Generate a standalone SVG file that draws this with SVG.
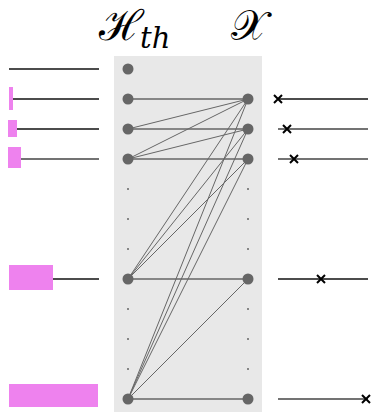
<svg xmlns="http://www.w3.org/2000/svg" width="373" height="412" viewBox="0 0 373 412">
<style>
.bar{fill:#ee82ee}
.ln{stroke:#111;stroke-width:1.3;fill:none}
.lg{stroke:#444;stroke-width:1.3;fill:none}
.e{stroke:#666;stroke-width:1;fill:none}
.h{stroke:#666;stroke-width:1.5;fill:none}
.n{fill:#666}
.d{fill:#666}
.x{stroke:#000;stroke-width:2;fill:none}
.lbl{font-family:"DejaVu Serif","Liberation Serif",serif;fill:#000}
</style>
<rect x="114" y="56" width="148" height="356" fill="#e8e8e8"/>
<g id="labels">
<text class="lbl" x="99" y="40" font-size="42">ℋ</text>
<text class="lbl" x="140" y="48" font-size="29" font-style="italic">th</text>
<text class="lbl" x="231" y="40" font-size="42">𝒳</text>
</g>
<g id="connectors">
<line class="h" x1="128" y1="99" x2="248" y2="99"/>
<line class="e" x1="128" y1="129" x2="248" y2="99"/>
<line class="h" x1="128" y1="129" x2="248" y2="129"/>
<line class="e" x1="128" y1="159" x2="248" y2="99"/>
<line class="e" x1="128" y1="159" x2="248" y2="129"/>
<line class="h" x1="128" y1="159" x2="248" y2="159"/>
<line class="e" x1="128" y1="279" x2="248" y2="99"/>
<line class="e" x1="128" y1="279" x2="248" y2="129"/>
<line class="e" x1="128" y1="279" x2="248" y2="159"/>
<line class="h" x1="128" y1="279" x2="248" y2="279"/>
<line class="e" x1="128" y1="399" x2="248" y2="99"/>
<line class="e" x1="128" y1="399" x2="248" y2="129"/>
<line class="e" x1="128" y1="399" x2="248" y2="159"/>
<line class="e" x1="128" y1="399" x2="248" y2="279"/>
<line class="h" x1="128" y1="399" x2="248" y2="399"/>
</g>
<g id="left-inputs">
<line class="ln" x1="9" y1="69" x2="99" y2="69"/>
<line class="ln" x1="9" y1="99" x2="99" y2="99"/>
<line class="ln" x1="9" y1="129" x2="99" y2="129"/>
<line class="lg" x1="9" y1="159" x2="99" y2="159"/>
<line class="ln" x1="9" y1="279" x2="99" y2="279"/>
<rect class="bar" x="9" y="87" width="4" height="23"/>
<rect class="bar" x="8" y="120" width="9" height="17"/>
<rect class="bar" x="8" y="147" width="13" height="21"/>
<rect class="bar" x="9" y="265" width="44" height="25"/>
<rect class="bar" x="9" y="384" width="89" height="23"/>
</g>
<g id="h-nodes">
<circle class="n" cx="128" cy="69" r="5.5"/>
<circle class="n" cx="128" cy="99" r="5.5"/>
<circle class="n" cx="128" cy="129" r="5.5"/>
<circle class="n" cx="128" cy="159" r="5.5"/>
<circle class="d" cx="128" cy="189" r="1"/>
<circle class="d" cx="128" cy="219" r="1"/>
<circle class="d" cx="128" cy="249" r="1"/>
<circle class="n" cx="128" cy="279" r="5.5"/>
<circle class="d" cx="128" cy="309" r="1"/>
<circle class="d" cx="128" cy="339" r="1"/>
<circle class="d" cx="128" cy="369" r="1"/>
<circle class="n" cx="128" cy="399" r="5.5"/>
</g>
<g id="x-nodes">
<circle class="n" cx="248" cy="99" r="5.5"/>
<circle class="n" cx="248" cy="129" r="5.5"/>
<circle class="n" cx="248" cy="159" r="5.5"/>
<circle class="d" cx="248" cy="189" r="1"/>
<circle class="d" cx="248" cy="219" r="1"/>
<circle class="d" cx="248" cy="249" r="1"/>
<circle class="n" cx="248" cy="279" r="5.5"/>
<circle class="d" cx="248" cy="309" r="1"/>
<circle class="d" cx="248" cy="339" r="1"/>
<circle class="d" cx="248" cy="369" r="1"/>
<circle class="n" cx="248" cy="399" r="5.5"/>
</g>
<g id="right-outputs">
<line class="ln" x1="278" y1="99" x2="368" y2="99"/>
<line class="lg" x1="278" y1="129" x2="368" y2="129"/>
<line class="lg" x1="278" y1="159" x2="368" y2="159"/>
<line class="ln" x1="278" y1="279" x2="368" y2="279"/>
<line class="lg" x1="278" y1="399" x2="368" y2="399"/>
<path class="x" d="M274 95l8 8M282 95l-8 8"/>
<path class="x" d="M283 125l8 8M291 125l-8 8"/>
<path class="x" d="M290 155l8 8M298 155l-8 8"/>
<path class="x" d="M317 275l8 8M325 275l-8 8"/>
<path class="x" d="M362 395l8 8M370 395l-8 8"/>
</g>
</svg>
